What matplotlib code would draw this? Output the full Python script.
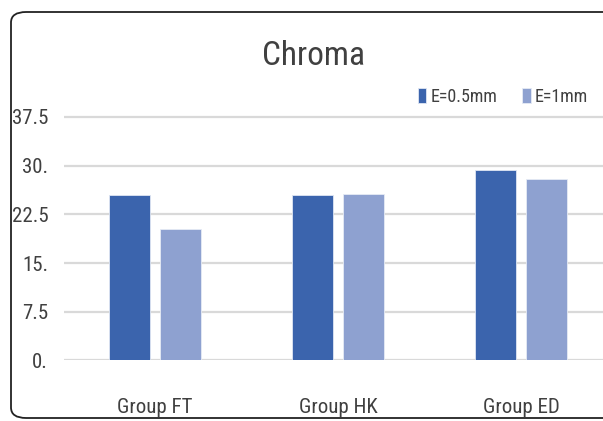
import matplotlib.pyplot as plt
from matplotlib.patches import FancyBboxPatch
import numpy as np

plt.rcParams['font.family'] = ['Liberation Sans Narrow', 'Roboto Condensed', 'Open Sans Condensed', 'DejaVu Sans']
plt.rcParams['font.stretch'] = 'condensed'

groups = ['Group FT', 'Group HK', 'Group ED']
e_05 = [25.4, 25.4, 29.3]
e_1 = [20.3, 25.7, 27.9]
series_labels = ['E=0.5mm', 'E=1mm']
yticks = [0, 7.5, 15, 22.5, 30, 37.5]
ytick_labels = ['0.', '7.5', '15.', '22.5', '30.', '37.5']

dark = '#3B64AD'
light = '#8EA1D0'
text_col = '#404040'

fig = plt.figure(figsize=(6.03, 4.21), dpi=100)

# rounded chart frame (right side runs past the crop)
frame = FancyBboxPatch((11 / 603, 3 / 421), 615 / 603, 406 / 421,
                       boxstyle='round,pad=0,rounding_size=0.025',
                       transform=fig.transFigure, facecolor='white',
                       edgecolor='#222222', linewidth=1.3, zorder=-5)
fig.patches.append(frame)

ax = fig.add_axes([63.5 / 603, 60.6 / 421, 549 / 603, 259.7 / 421])
ax.set_facecolor('none')
ax.set_zorder(2)

x = np.arange(len(groups))
w = 0.224
off = 0.142
ax.bar(x - off, e_05, w, color=dark, edgecolor='#dfe6f3', linewidth=0.6, label=series_labels[0], zorder=3)
ax.bar(x + off, e_1, w, color=light, edgecolor='#e6ebf5', linewidth=0.6, label=series_labels[1], zorder=3)

ax.set_xlim(-0.5, 2.5)
ax.set_ylim(0, 40)
ax.set_yticks(yticks)
ax.set_yticklabels(ytick_labels)
ax.set_xticks(x)
ax.set_xticklabels(groups)
ax.yaxis.grid(True, color='#D9D9D9', linewidth=1.6, zorder=0)
ax.set_axisbelow(True)
for s in ax.spines.values():
    s.set_visible(False)
ax.tick_params(axis='y', length=0, pad=11, labelsize=15, labelcolor=text_col)
ax.tick_params(axis='x', length=0, pad=27, labelsize=15, labelcolor=text_col)

fig.text(314 / 603, 1 - 56 / 421, 'Chroma', ha='center', va='center',
         fontsize=24, color=text_col)

fig.legend(loc='center', bbox_to_anchor=(503 / 603, 1 - 97 / 421), ncol=2,
           frameon=False, handlelength=0.45, handleheight=0.9, handletextpad=0.25,
           columnspacing=1.4, fontsize=13, labelcolor=text_col,
           borderpad=0, borderaxespad=0)

fig.savefig('out.png', dpi=100)
